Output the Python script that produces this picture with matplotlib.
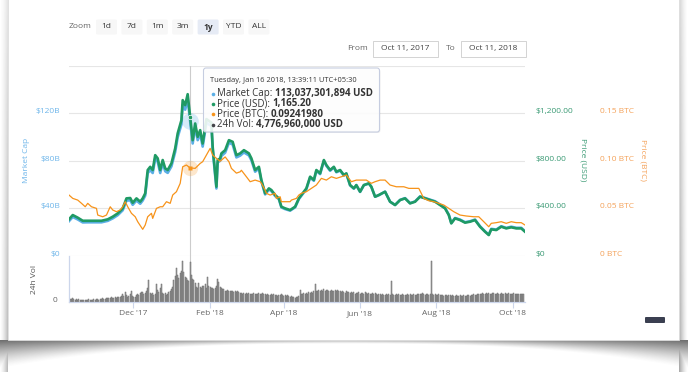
import matplotlib
matplotlib.use("Agg")
import matplotlib.pyplot as plt
import matplotlib.dates as mdates
from matplotlib.patches import Rectangle, FancyBboxPatch
from matplotlib.transforms import blended_transform_factory
import numpy as np

plt.rcParams["font.family"] = ["Open Sans", "DejaVu Sans"]

# =========================
# Data
# =========================

START = np.datetime64("2017-10-11")
END = np.datetime64("2018-10-11")

# days after Oct 11, 2017
price_days = [0, 3, 7, 11, 15, 21, 26, 31, 35, 39, 43, 46, 49, 51, 54, 57, 59, 61,
              63, 65, 67, 69, 71, 73, 75, 77, 79, 82, 85, 87, 90, 91, 93, 95, 97, 99,
              101, 103, 105, 107, 110, 114, 115, 118, 119, 121, 122, 125, 128, 131,
              134, 137, 140, 144, 146, 149, 152, 154, 157, 160, 162, 165, 168, 170,
              173, 177, 181, 184, 186, 190, 193, 196, 198, 201, 204, 206, 209, 212,
              214, 217, 220, 222, 225, 228, 230, 233, 236, 240, 242, 245, 248, 253,
              257, 261, 265, 269, 273, 277, 281, 285, 289, 293, 297, 301, 304, 306,
              309, 313, 317, 321, 325, 329, 333, 336, 338, 342, 346, 350, 354, 358,
              362, 365]
price_usd = [308, 344, 322, 296, 296, 296, 296, 308, 330, 358, 400, 484, 487, 447,
             484, 456, 484, 526, 722, 749, 722, 847, 820, 722, 806, 736, 722, 778,
             904, 1030, 1141, 1309, 1267, 1359, 1165.2, 973, 1113, 1001, 1057, 945,
             1150, 1120, 917, 582, 806, 820, 862, 889, 973, 959, 847, 862, 889, 862,
             820, 722, 749, 638, 526, 568, 554, 512, 484, 414, 400, 386, 414, 484,
             512, 568, 666, 638, 722, 694, 806, 764, 722, 749, 708, 722, 680, 694,
             596, 568, 596, 540, 596, 610, 582, 498, 512, 540, 456, 428, 470, 484,
             442, 456, 498, 484, 470, 456, 428, 400, 344, 274, 316, 302, 280, 288,
             302, 246, 204, 176, 224, 218, 246, 232, 241, 232, 232, 204]
market_cap_b = [29.3, 32.8, 30.7, 28.2, 28.3, 28.3, 28.3, 29.5, 31.6, 34.3, 38.4, 46.5,
                46.8, 43.0, 46.6, 43.9, 46.6, 50.7, 69.6, 72.2, 69.7, 81.7, 79.2, 69.7,
                77.9, 71.2, 69.8, 75.3, 87.5, 99.8, 110.6, 126.8, 122.9, 131.8, 113.0,
                94.5, 108.1, 97.3, 102.7, 91.9, 111.9, 109.1, 89.3, 56.7, 78.6, 80.0,
                84.0, 86.8, 95.1, 93.7, 82.8, 84.3, 87.0, 84.5, 80.4, 70.8, 73.5, 62.7,
                51.7, 55.8, 54.5, 50.4, 47.6, 40.8, 39.4, 38.1, 40.9, 47.8, 50.6, 56.1,
                65.9, 63.2, 71.5, 68.8, 79.9, 75.8, 71.6, 74.4, 70.3, 71.8, 67.6, 69.1,
                59.3, 56.6, 59.4, 53.8, 59.4, 60.9, 58.1, 49.8, 51.1, 54.0, 45.6, 42.9,
                47.1, 48.6, 44.4, 45.8, 50.1, 48.7, 47.3, 46.0, 43.2, 40.4, 34.7, 27.7,
                31.9, 30.6, 28.4, 29.2, 30.6, 25.0, 20.7, 17.9, 22.8, 22.2, 25.0, 23.6,
                24.6, 23.7, 23.7, 20.8]

btc_days = [0, 3, 7, 10, 13, 15, 18, 22, 23, 27, 30, 33, 35, 38, 41, 43, 45, 47, 50,
            53, 55, 59, 61, 63, 66, 67, 70, 73, 75, 78, 81, 83, 86, 89, 91, 94, 97,
            101, 105, 107, 110, 113, 115, 118, 121, 125, 128, 130, 134, 137, 138, 142,
            145, 149, 153, 154, 157, 158, 161, 165, 166, 169, 170, 173, 177, 178, 182,
            184, 186, 190, 194, 198, 202, 206, 210, 214, 218, 222, 226, 230, 234, 238,
            242, 245, 249, 253, 257, 262, 268, 272, 276, 280, 284, 288, 292, 296, 300,
            304, 308, 313, 318, 324, 328, 332, 336, 338, 342, 346, 350, 354, 358, 362,
            365]
price_btc = [0.064, 0.0605, 0.0587, 0.0553, 0.0517, 0.0553, 0.0517, 0.050, 0.043,
             0.0412, 0.043, 0.0517, 0.0483, 0.0465, 0.0483, 0.0517, 0.057, 0.0517,
             0.0448, 0.0412, 0.036, 0.028, 0.0325, 0.0412, 0.0448, 0.0395, 0.050,
             0.0517, 0.0517, 0.057, 0.0553, 0.064, 0.0675, 0.0763, 0.0937, 0.0955,
             0.0924198, 0.092, 0.0972, 0.099, 0.106, 0.113, 0.106, 0.1025, 0.0995,
             0.104, 0.099, 0.092, 0.087, 0.0884, 0.090, 0.0832, 0.078, 0.0797, 0.078,
             0.0763, 0.0692, 0.0658, 0.064, 0.0658, 0.0605, 0.0622, 0.057, 0.057,
             0.057, 0.0587, 0.0605, 0.064, 0.0658, 0.0675, 0.071, 0.0745, 0.0815,
             0.0797, 0.0832, 0.0815, 0.0832, 0.085, 0.078, 0.0797, 0.0797, 0.0797,
             0.0763, 0.078, 0.0797, 0.0797, 0.0745, 0.0727, 0.0727, 0.071, 0.071,
             0.071, 0.0605, 0.058, 0.057, 0.0553, 0.0535, 0.050, 0.0465, 0.043, 0.042,
             0.0412, 0.0412, 0.036, 0.0307, 0.0343, 0.035, 0.036, 0.0343, 0.036,
             0.035, 0.035, 0.0325]

# daily 24h volume, billions USD, from Oct 11, 2017
vol_b = [
    0.45, 0.40, 0.35, 0.42, 0.30, 0.28, 0.33, 0.25, 0.30, 0.22,
    0.20, 0.25, 0.18, 0.22, 0.26, 0.20, 0.30, 0.24, 0.21, 0.28,
    0.32, 0.26, 0.35, 0.30, 0.28, 0.38, 0.33, 0.42, 0.36, 0.40,
    0.45, 0.50, 0.42, 0.48, 0.55, 0.46, 0.52, 0.60, 0.50, 0.58,
    0.62, 0.55, 0.70, 0.95, 0.75, 1.20, 0.80, 0.65, 0.70, 0.90,
    1.30, 0.75, 0.55, 0.60, 0.85, 0.95, 0.80, 1.05, 1.15, 1.20,
    0.90, 1.10, 1.25, 1.60, 2.55, 1.10, 0.95, 1.05, 0.85, 1.00,
    2.10, 1.40, 1.20, 1.60, 2.10, 1.05, 0.95, 1.10, 0.85, 1.00,
    1.20, 1.30, 1.55, 1.80, 2.60, 3.10, 4.00, 3.20, 2.80, 3.40,
    3.70, 4.90, 3.60, 3.00, 2.80, 2.60, 2.45, 4.78, 3.20, 2.70,
    2.60, 2.20, 1.80, 1.70, 2.20, 1.75, 1.70, 1.90, 1.85, 2.10,
    1.70, 2.90, 1.90, 1.75, 1.65, 1.70, 1.55, 1.60, 1.90, 2.70,
    2.40, 1.75, 1.60, 1.55, 1.50, 1.35, 1.30, 1.45, 1.25, 1.30,
    1.35, 1.25, 1.20, 1.30, 1.15, 1.25, 1.20, 1.10, 1.05, 1.00,
    1.10, 1.00, 1.05, 0.95, 1.10, 1.00, 0.90, 1.00, 1.05, 0.95,
    1.00, 0.95, 1.10, 1.00, 0.95, 1.05, 0.90, 1.00, 0.85, 0.90,
    0.80, 0.85, 0.90, 0.80, 0.95, 0.85, 0.80, 0.75, 0.85, 0.80,
    0.90, 0.80, 0.75, 0.85, 0.70, 0.80, 0.75, 0.65, 0.70, 0.60,
    0.55, 0.50, 0.60, 0.55, 0.70, 1.40, 0.95, 0.90, 1.05, 0.95,
    1.10, 1.00, 1.15, 1.05, 1.20, 1.10, 1.25, 2.10, 1.35, 1.30,
    1.45, 1.30, 1.40, 1.25, 1.50, 1.35, 1.45, 1.40, 1.30, 1.35,
    1.40, 1.25, 1.30, 1.45, 1.35, 1.40, 1.25, 1.30, 1.20, 1.35,
    1.20, 1.10, 1.25, 1.15, 1.20, 1.05, 1.15, 1.10, 1.20, 1.00,
    1.10, 1.05, 1.15, 1.00, 1.10, 1.05, 0.95, 1.15, 1.05, 1.00,
    1.05, 0.95, 1.00, 1.10, 0.95, 1.05, 0.90, 0.85, 0.95, 0.90,
    0.85, 0.90, 0.80, 0.85, 0.90, 0.80, 0.95, 0.85, 2.50, 0.90,
    0.85, 0.80, 0.90, 0.85, 0.95, 0.80, 0.85, 0.90, 0.80, 0.85,
    0.80, 0.90, 0.85, 0.95, 0.80, 0.85, 0.90, 0.80, 0.85, 0.95,
    1.00, 0.90, 0.95, 1.05, 0.90, 0.85, 0.95, 0.90, 0.85, 0.95,
    4.90, 0.90, 0.85, 0.95, 0.80, 0.85, 0.90, 0.80, 0.85, 0.80,
    0.75, 0.85, 0.80, 0.75, 0.85, 0.80, 0.75, 0.80, 0.70, 0.75,
    0.80, 0.70, 0.75, 0.80, 0.70, 0.75, 0.80, 0.70, 0.75, 0.85,
    0.80, 0.75, 0.85, 0.80, 0.90, 0.85, 0.80, 0.95, 0.90, 1.00,
    0.95, 1.05, 0.90, 1.00, 1.10, 0.95, 1.05, 1.00, 0.95, 1.05,
    1.10, 0.95, 1.00, 1.05, 0.90, 1.00, 1.05, 0.95, 1.00, 1.10,
    0.95, 1.00, 1.05, 0.90, 1.00, 0.95, 1.05, 1.00, 0.90, 0.95,
    1.00, 0.95, 0.90, 0.95, 1.00,
]

cap_ticks = [0, 40, 80, 120]
cap_labels = ["$0", "$40B", "$80B", "$120B"]
usd_ticks = [0, 400, 800, 1200]
usd_labels = ["$0", "$400.00", "$800.00", "$1,200.00"]
btc_ticks = [0, 0.05, 0.10, 0.15]
btc_labels = ["0 BTC", "0.05 BTC", "0.10 BTC", "0.15 BTC"]

zoom_buttons = ["1d", "7d", "1m", "3m", "1y", "YTD", "ALL"]
active_button = "1y"
range_from = "Oct 11, 2017"
range_to = "Oct 11, 2018"

hover_day = 97
tooltip_header = "Tuesday, Jan 16 2018, 13:39:11 UTC+05:30"
tooltip_rows = [
    ("Market Cap: ", "113,037,301,894 USD"),
    ("Price (USD): ", "1,165.20"),
    ("Price (BTC): ", "0.09241980"),
    ("24h Vol: ", "4,776,960,000 USD"),
]

# =========================
# Styling
# =========================

W, H = 688, 372
BLUE = "#5aaee6"
BLUE_TXT = "#6fb6ea"
GREEN = "#1f9a64"
GREEN_TXT = "#3a9a74"
ORANGE = "#f7931a"
ORANGE_TXT = "#f4a25a"
GRID = "#e6e6e6"
AXIS = "#ccd6eb"
FS = 6.0


def frac(l, t, r, b):
    """pixel box (left, top, right, bottom) -> figure fraction rect"""
    return [l / W, 1 - b / H, (r - l) / W, (b - t) / H]


def bare(a):
    for s in a.spines.values():
        s.set_visible(False)
    a.set_xticks([])
    a.set_yticks([])
    a.set_facecolor("none")


fig = plt.figure(figsize=(W / 100, H / 100), dpi=100)

# ---- background card with curled shadow ----
bg = fig.add_axes([0, 0, 1, 1])
yy, xx = np.mgrid[0:H, 0:W] + 0.5
u = np.abs((xx - 344) / 344)
depth = 4 + 25 * u ** 2.6
t = np.clip((yy - 340) / depth, 0, None)
bottom = np.where(yy >= 340, np.clip(1 - t, 0, 1) ** 1.4, 0) * (0.45 + 0.35 * u)
left = np.where(xx < 8, np.clip(xx / 8, 0, 1) ** 1.5, 0) * (0.15 + 0.25 * yy / H)
right = np.where(xx > 679, np.clip((688 - xx) / 9, 0, 1) ** 1.5, 0) * (0.25 + 0.25 * yy / H)
shade = np.zeros((H, W, 4))
shade[..., :3] = 0.28
shade[..., 3] = np.clip(np.maximum(bottom, np.maximum(left, right)), 0, 1)
bg.imshow(shade, extent=(0, W, H, 0), aspect="auto", interpolation="bilinear", zorder=0)
bg.add_patch(Rectangle((8, -2), 671, 342, facecolor="white", edgecolor="#dcdcdc",
                       lw=0.6, zorder=1))
bg.set_xlim(0, W)
bg.set_ylim(H, 0)
bg.axis("off")

# ---- range selector ----
bg.text(69, 27, "Zoom", fontsize=FS, color="#666666", ha="left", va="center", zorder=3)
for i, name in enumerate(zoom_buttons):
    x0 = 96 + i * 25.4
    on = name == active_button
    bg.add_patch(FancyBboxPatch((x0, 19.5), 21, 15, boxstyle="round,pad=0,rounding_size=1.5",
                                facecolor="#e6ebf5" if on else "#f7f7f7", edgecolor="none",
                                zorder=2))
    bg.text(x0 + 10.5, 27, name, fontsize=FS, color="#333333", ha="center", va="center",
            fontweight="bold" if on else "normal", zorder=3)

bg.text(347, 48.5, "From", fontsize=FS, color="#666666", ha="left", va="center", zorder=3)
bg.text(446, 48.5, "To", fontsize=FS, color="#666666", ha="left", va="center", zorder=3)
for x0, label in [(373, range_from), (461, range_to)]:
    bg.add_patch(Rectangle((x0, 41), 65, 16, facecolor="white", edgecolor="#cccccc",
                           lw=0.6, zorder=2))
    bg.text(x0 + 32.5, 48.5, label, fontsize=FS, color="#444444", ha="center",
            va="center", zorder=3)

# axis titles
bg.text(27, 160, "Market Cap", rotation=90, fontsize=FS, color=BLUE_TXT, ha="center",
        va="center", zorder=3)
bg.text(35, 279, "24h Vol", rotation=90, fontsize=FS, color="#555555", ha="center",
        va="center", zorder=3)
bg.text(583, 160, "Price (USD)", rotation=270, fontsize=FS, color=GREEN_TXT, ha="center",
        va="center", zorder=3)
bg.text(643, 160, "Price (BTC)", rotation=270, fontsize=FS, color=ORANGE_TXT, ha="center",
        va="center", zorder=3)

bg.add_patch(FancyBboxPatch((645, 317), 20, 6, boxstyle="round,pad=0,rounding_size=1",
                            facecolor="#3b3f51", edgecolor="none", zorder=3))

# ---- main price panel ----
p_dates = START + np.array(price_days)
b_dates = START + np.array(btc_days)
hover = START + np.array(hover_day)
i_p = price_days.index(hover_day)
i_b = btc_days.index(hover_day)

ax = fig.add_axes(frac(69, 65.5, 525, 256))
bare(ax)
ax.set_xlim(START, END)
ax.set_ylim(0, 160)
for v in cap_ticks + [160]:
    ax.axhline(v, color=GRID, lw=0.8, zorder=0)
ax.axvline(hover, color="#cccccc", lw=0.8, zorder=1)
ax.plot(p_dates, market_cap_b, color=BLUE, lw=1.9, solid_joinstyle="round", zorder=2)

ax_usd = ax.twinx()
bare(ax_usd)
ax_usd.set_xlim(START, END)
ax_usd.set_ylim(0, 1600)
ax_usd.plot(p_dates, price_usd, color=GREEN, lw=1.9, solid_joinstyle="round")

ax_btc = ax.twinx()
bare(ax_btc)
ax_btc.set_xlim(START, END)
ax_btc.set_ylim(0, 0.2)
ax_btc.plot(b_dates, price_btc, color=ORANGE, lw=0.9)

# hover markers
ax.plot(hover, market_cap_b[i_p], "o", ms=12, color=BLUE, alpha=0.25, mec="none")
ax_usd.plot(hover, price_usd[i_p], "o", ms=3.2, color=GREEN, mec="white", mew=0.5)
ax_btc.plot(hover, price_btc[i_b], "o", ms=11, color=ORANGE, alpha=0.22, mec="none")
ax_btc.plot(hover, price_btc[i_b], "s", ms=3, color=ORANGE, mec="none")

# tick labels
tr = blended_transform_factory(ax.transAxes, ax.transData)
for v, s in zip(cap_ticks, cap_labels):
    ax.text(-9 / 456, v, s, transform=tr, ha="right", va="baseline", fontsize=FS,
            color=BLUE_TXT)
tr = blended_transform_factory(ax_usd.transAxes, ax_usd.transData)
for v, s in zip(usd_ticks, usd_labels):
    ax_usd.text(1 + 11 / 456, v, s, transform=tr, ha="left", va="baseline", fontsize=FS,
                color=GREEN_TXT)
tr = blended_transform_factory(ax_btc.transAxes, ax_btc.transData)
for v, s in zip(btc_ticks, btc_labels):
    ax_btc.text(1 + 75 / 456, v, s, transform=tr, ha="left", va="baseline", fontsize=FS,
                color=ORANGE_TXT)

# ---- volume panel ----
axv = fig.add_axes(frac(69, 255.5, 525, 302))
axv.set_facecolor("none")
v_dates = START + np.arange(len(vol_b))
axv.bar(v_dates, vol_b, width=0.8, color="#a4a4a4", edgecolor="#6a6a6a", linewidth=0.35)
axv.axvline(hover, color="#cccccc", lw=0.8, zorder=0)
axv.set_xlim(START, END)
axv.set_ylim(0, 5.5)
for side in ["top", "right"]:
    axv.spines[side].set_visible(False)
for side in ["left", "bottom"]:
    axv.spines[side].set_color(AXIS)
    axv.spines[side].set_linewidth(0.9)
axv.set_yticks([])
axv.xaxis.set_major_locator(mdates.MonthLocator(bymonth=[12, 2, 4, 6, 8, 10]))
axv.xaxis.set_major_formatter(mdates.DateFormatter("%b '%y"))
axv.tick_params(axis="x", length=4, width=0.8, color=AXIS, labelsize=FS,
                labelcolor="#666666", pad=2)
tr = blended_transform_factory(axv.transAxes, axv.transData)
axv.text(-12 / 456, 0, "0", transform=tr, ha="right", va="baseline", fontsize=FS,
         color="#666666")

# ---- tooltip overlay ----
top = fig.add_axes([0, 0, 1, 1])
top.set_xlim(0, W)
top.set_ylim(H, 0)
top.axis("off")
top.add_patch(FancyBboxPatch((204.5, 69), 176, 64, boxstyle="round,pad=0,rounding_size=2.5",
                             facecolor="black", alpha=0.06, edgecolor="none"))
top.add_patch(FancyBboxPatch((203.5, 68), 176, 64, boxstyle="round,pad=0,rounding_size=2.5",
                             facecolor=(1, 1, 1, 0.88), edgecolor="#c6cde0", lw=0.8))
top.text(210, 81, tooltip_header, fontsize=5.4, color="#333333", ha="left", va="center")

renderer = fig.canvas.get_renderer()
dot_colors = [BLUE, GREEN, ORANGE, "#434348"]
for k, ((name, val), c) in enumerate(zip(tooltip_rows, dot_colors)):
    y = 93.5 + k * 10.4
    top.plot(212.5, y, "o", ms=2.6, color=c, mec="none")
    t1 = top.text(217, y, name, fontsize=7.0, color="#333333", ha="left", va="center")
    x1 = t1.get_window_extent(renderer=renderer).x1
    top.text(x1, y, val, fontsize=7.0, color="#333333", ha="left", va="center",
             fontweight="bold")

fig.savefig("out.png", dpi=100)
